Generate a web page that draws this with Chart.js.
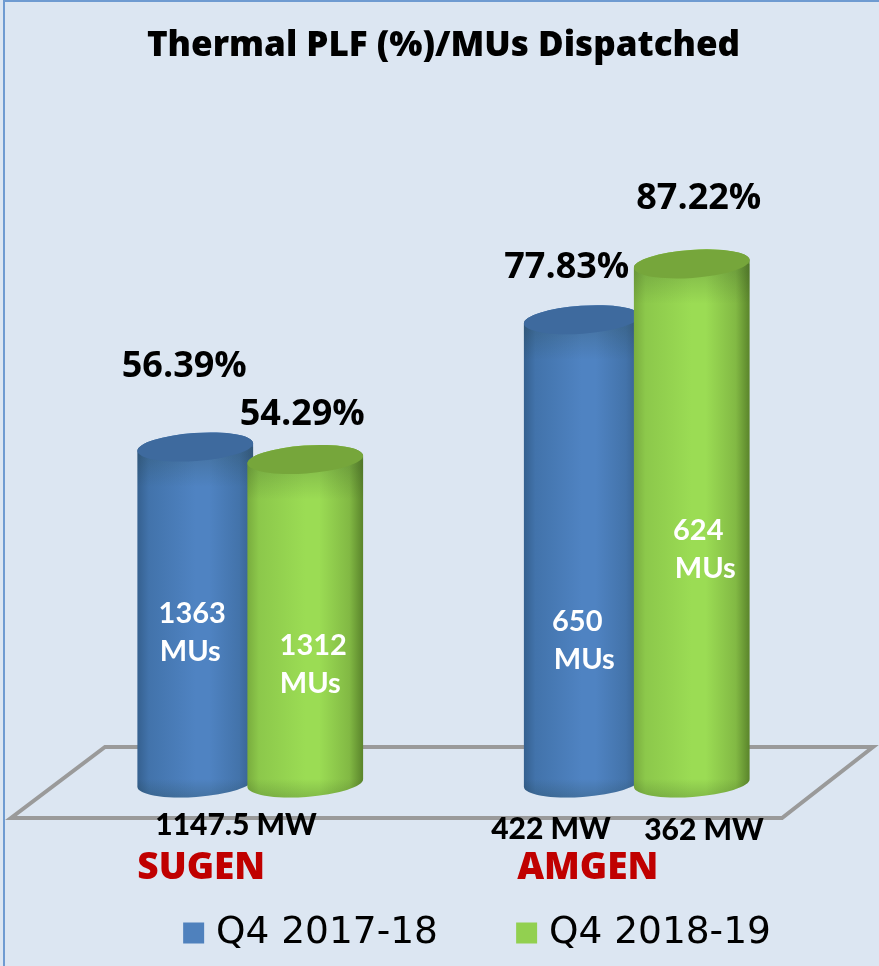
<!DOCTYPE html>
<html><head><meta charset="utf-8">
<style>
html,body{margin:0;padding:0;background:#DCE6F2;width:879px;height:966px;overflow:hidden}
#wrap{position:relative;width:879px;height:966px}
#edge{position:absolute;left:3px;top:0;width:876px;height:966px;box-sizing:border-box;border-left:2px solid #6F9BD1;border-top:2px solid #6F9BD1;pointer-events:none}
canvas{display:block}
</style>
<script src="https://cdn.jsdelivr.net/npm/chart.js@4"></script>
</head><body>
<div id="wrap"><canvas id="c" width="879" height="966"></canvas><div id="edge"></div></div>
<script>
const categories = ['SUGEN', 'AMGEN'];
const seriesNames = ['Q4 2017-18', 'Q4 2018-19'];
const plf201718 = [56.39, 77.83];
const plf201819 = [54.29, 87.22];
const mus201718 = ['1363', '650'];
const mus201819 = ['1312', '624'];
const capacityLabels = ['1147.5 MW', '422 MW', '362 MW'];
const titleText = 'Thermal PLF (%)/MUs Dispatched';

const SANS = '"Open Sans"';
const LATO = 'Lato';
const shades = [
  {edgeL:'#35608F', near:'#4273AB', mid:'#4F83C2', nearR:'#4373AA', edgeR:'#375F8C', top:'#3E6A9E'},
  {edgeL:'#79AC3E', near:'#8CC84B', mid:'#9BDC54', nearR:'#82B944', edgeR:'#5A842B', top:'#76A63B'}
];
// offsets of the annotation texts from their bars: [percent dx, dy, number dx, dy, MUs dx]
const labelOffsets = [
  [[-11,-80,-3,167,-5],[-15,-52,-4.5,302,2.5]],
  [[-3,-45,8,186,5],[7,-65,6.5,267,13.5]]
];
const capacitySpots = [[236,825],[551,829],[704,830]];

function drawCylinders(chart, index){
  const c = chart.ctx, s = shades[index], rot = -0.07, ry = 14;
  chart.getDatasetMeta(index).data.forEach(el => {
    const rx = el.width/2, x = el.x, yT = el.y, yB = el.base + 1;
    c.save();
    c.beginPath();
    c.ellipse(x, yB, rx, ry, rot, 0, Math.PI);
    c.lineTo(x - rx*Math.cos(rot), yT - rx*Math.sin(rot));
    c.ellipse(x, yT, rx, ry, rot, Math.PI, 0);
    c.closePath();
    const g = c.createLinearGradient(x-rx, 0, x+rx, 0);
    g.addColorStop(0, s.edgeL); g.addColorStop(0.1, s.near);
    g.addColorStop(0.5, s.mid); g.addColorStop(0.62, s.mid);
    g.addColorStop(0.88, s.nearR); g.addColorStop(1, s.edgeR);
    c.fillStyle = g; c.fill();
    c.clip();
    const sh = c.createLinearGradient(0, yT+8, 0, yT+40);
    sh.addColorStop(0,'rgba(30,50,30,0.18)'); sh.addColorStop(1,'rgba(30,50,30,0)');
    c.fillStyle = sh; c.fillRect(x-rx-2, yT, 2*rx+4, 44);
    const sb = c.createLinearGradient(0, yB-4, 0, yB+16);
    sb.addColorStop(0,'rgba(20,40,20,0)'); sb.addColorStop(1,'rgba(20,40,20,0.2)');
    c.fillStyle = sb; c.fillRect(x-rx-2, yB-6, 2*rx+4, 26);
    c.restore();
    c.save();
    c.fillStyle = s.top;
    c.beginPath(); c.ellipse(x, yT, rx, ry, rot, 0, 2*Math.PI); c.fill();
    c.restore();
  });
}

const cylinders = {
  id:'cylinders',
  afterLayout(chart){
    const l = chart.legend;
    l.left += 37; l.right += 37; l.top = 829; l.bottom = 966;
  },
  beforeDatasetsDraw(chart){
    const c = chart.ctx, y0 = chart.scales.y.getPixelForValue(0);
    c.save();
    c.strokeStyle = '#9A9A9A'; c.lineWidth = 4; c.lineJoin = 'miter';
    c.beginPath();
    c.moveTo(105, y0-35); c.lineTo(873, y0-35); c.lineTo(782, y0+36); c.lineTo(11, y0+36); c.closePath();
    c.stroke();
    c.restore();
    drawCylinders(chart, 0);
    drawCylinders(chart, 1);
  },
  beforeDatasetDraw(){ return false; },
  afterDatasetsDraw(chart){
    const c = chart.ctx;
    c.save();
    c.textAlign = 'center'; c.textBaseline = 'middle';
    [plf201718, plf201819].forEach((vals, d) => {
      const mus = d === 0 ? mus201718 : mus201819;
      chart.getDatasetMeta(d).data.forEach((el, i) => {
        const o = labelOffsets[d][i];
        c.fillStyle = '#000'; c.font = '700 36px ' + SANS;
        c.fillText(vals[i].toFixed(2) + '%', el.x + o[0], el.y + o[1]);
        c.fillStyle = '#fff'; c.font = '700 29px ' + LATO;
        c.fillText(mus[i], el.x + o[2], el.y + o[3]);
        c.fillText('MUs', el.x + o[4], el.y + o[3] + 38);
      });
    });
    c.fillStyle = '#000'; c.font = '900 30px ' + LATO;
    capacityLabels.forEach((t, i) => c.fillText(t, capacitySpots[i][0], capacitySpots[i][1]));
    c.restore();
  }
};

new Chart(document.getElementById('c'), {
  type:'bar',
  data:{
    labels:categories,
    datasets:[
      {label:seriesNames[0], data:plf201718, backgroundColor:'#4F81BD', borderWidth:0},
      {label:seriesNames[1], data:plf201819, backgroundColor:'#92D050', borderWidth:0}
    ]
  },
  plugins:[cylinders],
  options:{
    responsive:false, animation:false,
    layout:{padding:{left:57, right:49, top:0, bottom:0}},
    datasets:{bar:{categoryPercentage:220/386.5, barPercentage:116/110}},
    scales:{
      y:{min:0, max:100, display:false},
      x:{
        grid:{display:false, drawTicks:false}, border:{display:false},
        afterFit(s){ s.height = 108; },
        ticks:{color:'#C00000', font:{family:SANS, size:37, weight:'800'}, padding:64, labelOffset:-49, maxRotation:0, autoSkip:false}
      }
    },
    plugins:{
      tooltip:{enabled:false},
      title:{display:true, text:titleText, color:'#000', font:{family:SANS, size:35, weight:'800', lineHeight:1.2}, padding:{top:25, bottom:121}},
      legend:{display:true, position:'bottom', maxHeight:76, labels:{
        color:'#000', font:{family:'"DejaVu Sans"', size:37.5}, boxWidth:7, boxHeight:7, padding:85.25,
        generateLabels(chart){
          return chart.data.datasets.map((d, i) => ({
            text:d.label, fillStyle:d.backgroundColor, strokeStyle:d.backgroundColor,
            lineWidth:14, lineJoin:'miter', fontColor:'#000', hidden:false, datasetIndex:i
          }));
        }
      }}
    }
  }
});
</script>
</body></html>
